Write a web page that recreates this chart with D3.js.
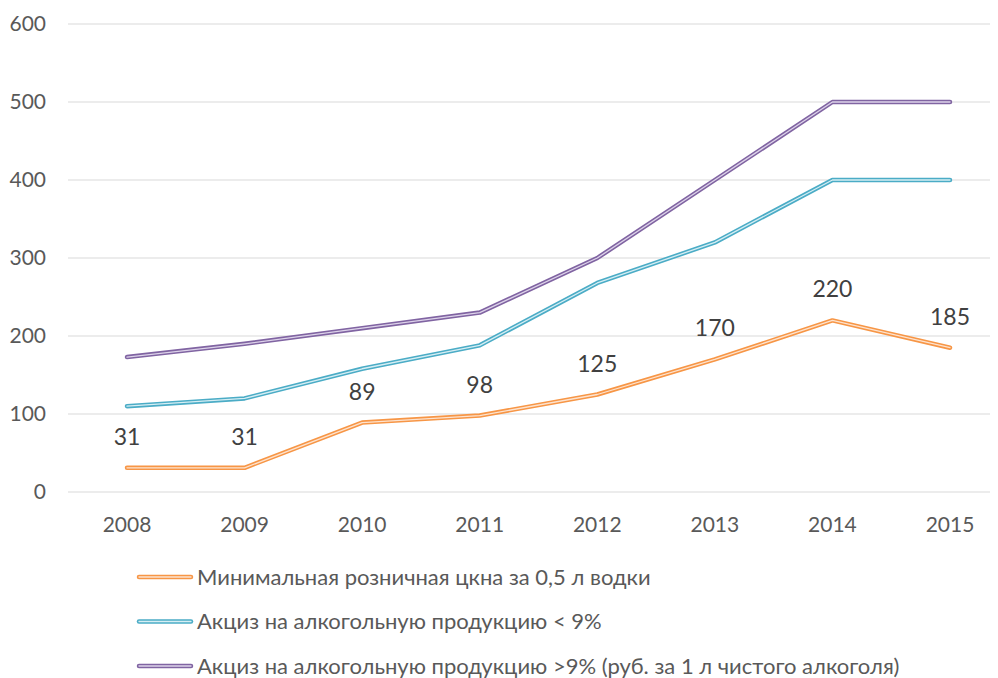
<!DOCTYPE html>
<html><head><meta charset="utf-8">
<script src="https://cdn.jsdelivr.net/npm/d3@7"></script>
<style>body{margin:0;background:#fff}svg{display:block;font-family:Lato,"Open Sans",sans-serif}</style>
</head><body><svg id="c" width="998" height="678"></svg>
<script>
const years = ["2008","2009","2010","2011","2012","2013","2014","2015"];
const minPrice = [31,31,89,98,125,170,220,185];
const exciseLow = [110,120,158,188,268,320,400,400];
const exciseHigh = [173,190,210,230,300,400,500,500];
const yTicks = [0,100,200,300,400,500,600];
const seriesNames = ["Минимальная розничная цкна за 0,5 л водки","Акциз на алкогольную продукцию < 9%","Акциз на алкогольную продукцию >9% (руб. за 1 л чистого алкоголя)"];
const colors = ["#f79646","#4bacc6","#8064a2"];
const inner = ["#fde3cf","#d6eef4","#ddd3ea"];

const svg = d3.select("#c");
const x = d3.scalePoint().domain(years).range([127,950]);
const y = d3.scaleLinear().domain([0,600]).range([492,24]);

svg.append("g").selectAll("line").data(yTicks).join("line")
  .attr("x1",68).attr("x2",990).attr("y1",d=>y(d)).attr("y2",d=>y(d))
  .attr("stroke","#d9d9d9").attr("stroke-width",1);
svg.append("g").selectAll("text").data(yTicks).join("text")
  .attr("x",46).attr("y",d=>y(d)).attr("dy","0.35em").attr("text-anchor","end")
  .attr("font-size",21).attr("fill","#595959").text(d=>d);
svg.append("g").selectAll("text").data(years).join("text")
  .attr("x",d=>x(d)).attr("y",525).attr("dy","0.35em").attr("text-anchor","middle")
  .attr("font-size",21).attr("fill","#595959").text(d=>d);

const series=[minPrice,exciseLow,exciseHigh];
const line=d3.line().x((d,i)=>x(years[i])).y(d=>y(d));
series.forEach((s,k)=>{
  svg.append("path").attr("d",line(s)).attr("fill","none").attr("stroke",colors[k]).attr("stroke-width",4.5).attr("stroke-linecap","round").attr("stroke-linejoin","round");
  svg.append("path").attr("d",line(s)).attr("fill","none").attr("stroke",inner[k]).attr("stroke-width",1.3).attr("stroke-linecap","round").attr("stroke-linejoin","round");
});
svg.append("g").selectAll("text").data(minPrice).join("text")
  .attr("x",(d,i)=>x(years[i])).attr("y",d=>y(d)-31).attr("dy","0.35em").attr("text-anchor","middle")
  .attr("font-size",23).attr("fill","#404040").text(d=>d);

const lg=svg.append("g");
seriesNames.forEach((n,k)=>{
  const yy=577+k*44.5;
  lg.append("line").attr("x1",139).attr("x2",191).attr("y1",yy).attr("y2",yy).attr("stroke",colors[k]).attr("stroke-width",4.5).attr("stroke-linecap","round");
  lg.append("line").attr("x1",139).attr("x2",191).attr("y1",yy).attr("y2",yy).attr("stroke",inner[k]).attr("stroke-width",1.3).attr("stroke-linecap","round");
  lg.append("text").attr("x",197).attr("y",yy).attr("dy","0.35em").attr("font-size",22).attr("fill","#595959").text(n);
});
</script></body></html>
